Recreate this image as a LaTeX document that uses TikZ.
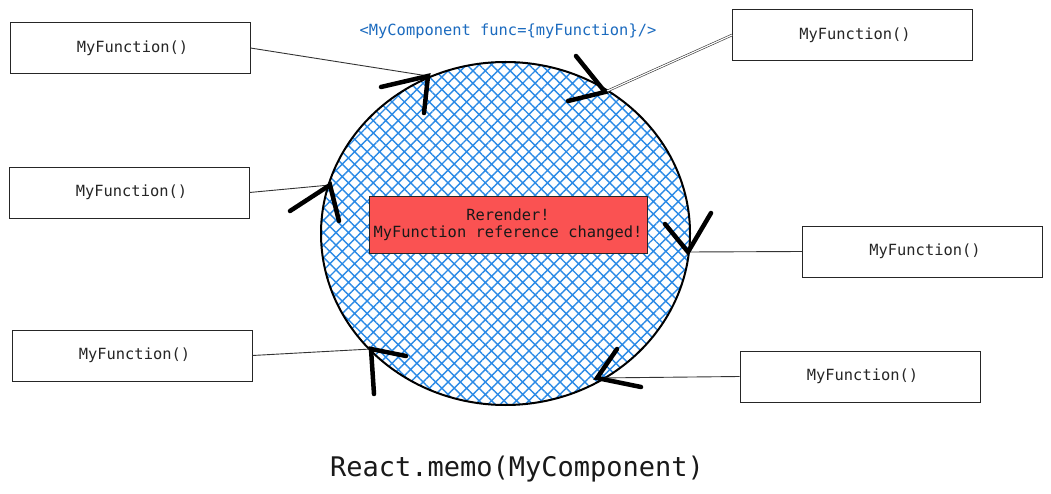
\documentclass[tikz,border=0pt]{standalone}
\usepackage{fontspec}
\setmonofont{DejaVu Sans Mono}
\usetikzlibrary{patterns.meta,shapes.geometric}
\definecolor{hatchblue}{HTML}{2B8AE6}
\definecolor{codeblue}{HTML}{1C6BBF}
\definecolor{alertred}{HTML}{FA5252}
\tikzset{
  fnbox/.style={draw=black!85, line width=0.9pt, minimum width=240pt, minimum height=51pt, inner sep=0pt, font=\ttfamily\fontsize{15.4}{18}\selectfont, text=black!85},
  conn/.style={draw=black!80, line width=0.9pt},
  barb/.style={draw=black, line width=4.5pt, line cap=round},
}
\begin{document}
\begin{tikzpicture}[x=1pt,y=-1pt]
\useasboundingbox (0,0) rectangle (1051,494);
\fill[white] (0,0) rectangle (1051,494);
% component circle
\node[ellipse, minimum width=369pt, minimum height=343pt, inner sep=0pt,
      pattern={Hatch[angle=45,distance=8.8pt,line width=1.4pt]}, pattern color=hatchblue,
      draw=black, line width=2pt] (comp) at (505.5,233.5) {};
% red box
\node[draw=black!85, line width=1pt, fill=alertred, minimum width=278pt, minimum height=56pt, inner sep=0pt,
      font=\ttfamily\fontsize{15.4}{19}\selectfont, align=center, text=black!90] (alert) at (508,225)
      {\raisebox{2pt}{\begin{tabular}{@{}c@{}}Rerender!\\[-2pt]MyFunction reference changed!\end{tabular}}};
% blue label
\node[font=\ttfamily\fontsize{15.4}{18}\selectfont, text=codeblue] (jsx) at (508,31) {<MyComponent func=\{myFunction\}/>};
% title
\node[font=\ttfamily\fontsize{27}{30}\selectfont, text=black!90] (title) at (517,469) {React.memo(MyComponent)};
% function boxes
\node[fnbox] (f1) at (130,48) {\hspace{5pt}MyFunction()};
\node[fnbox] (f2) at (129,192.5) {\hspace{5pt}MyFunction()};
\node[fnbox] (f3) at (132,355.5) {\hspace{5pt}MyFunction()};
\node[fnbox] (f4) at (852.5,35) {\hspace{5pt}MyFunction()};
\node[fnbox] (f5) at (922.5,251.5) {\hspace{5pt}MyFunction()};
\node[fnbox] (f6) at (860,376.5) {\hspace{5pt}MyFunction()};
% arrow tips on the circle
\coordinate (t1) at (428,76);
\coordinate (t2) at (605,92);
\coordinate (t3) at (688,252);
\coordinate (t4) at (597,378);
\coordinate (t5) at (371,349);
\coordinate (t6) at (330,185);
% connectors
\draw[conn] (f1.east) -- (t1);
\draw[conn, double, double distance=1.2pt, line width=0.6pt] (f4.west) -- (t2);
\draw[conn] (f5.west) -- (t3);
\draw[conn] (f6.west) -- (t4);
\draw[conn] (f3.east) -- (t5);
\draw[conn] (f2.east) -- (t6);
% hand-drawn arrowheads
\draw[barb] (381,87) -- (t1) -- (424,113);
\draw[barb] (576,56) -- (t2) -- (568,101);
\draw[barb] (665,224) -- (t3) -- (711,213);
\draw[barb] (617,349) -- (t4) -- (641,387);
\draw[barb] (406,356) -- (t5) -- (374,394);
\draw[barb] (290,211) -- (t6) -- (339,221);
\end{tikzpicture}
\end{document}
